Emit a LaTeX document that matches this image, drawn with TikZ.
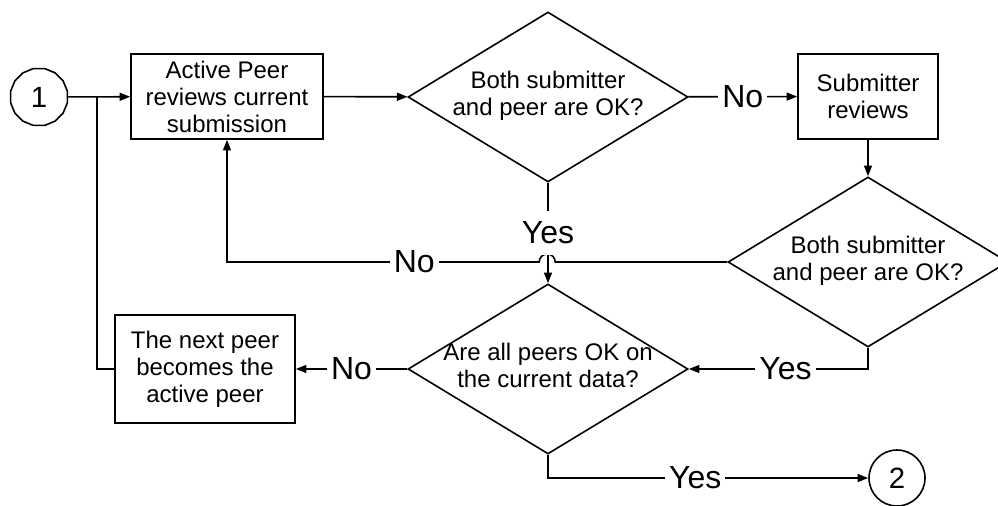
\documentclass[tikz,border=0pt]{standalone}
\usepackage{fontspec}
\setmainfont{Liberation Sans}
\usetikzlibrary{positioning,arrows.meta,shapes.geometric}
\newcommand{\qtext}[1]{\makebox[0pt]{\begin{tabular}{@{}c@{}}#1\end{tabular}}}

\begin{document}
\begin{tikzpicture}[x=0.75pt, y=-0.75pt, line width=1.2pt, >={Triangle[length=8pt,width=6pt]},
        block/.style={rectangle, draw, inner sep=0pt, align=center, font=\fontsize{18}{20.25}\selectfont},
        decision/.style={diamond, draw, aspect=1.65, inner sep=0pt, minimum width=210pt, minimum height=127.5pt, font=\fontsize{18}{20.25}\selectfont},
        conn/.style={draw, inner sep=0pt, font=\fontsize{22}{26}\selectfont},
        lbl/.style={fill=white, inner xsep=3pt, inner ysep=8pt, font=\fontsize{24}{28}\selectfont}]
        \useasboundingbox (0,0) rectangle (998,506);
        \node[conn, regular polygon, regular polygon sides=16, minimum size=43.5pt] (start) at (39,97) {1};
        \node[block, minimum width=144pt, minimum height=63.75pt] (review) at (227,96.5) {Active Peer\\reviews current\\submission};
        \node[decision] (check) at (548,97) {\qtext{Both submitter\\and peer are OK?}};
        \node[block, minimum width=105pt, minimum height=63.75pt] (subrev) at (868,96.5) {Submitter\\reviews};
        \node[decision] (recheck) at (868,262) {\qtext{Both submitter\\and peer are OK?}};
        \node[decision] (final) at (548,369) {\qtext{Are all peers OK on\\the current data?}};
        \node[block, minimum width=135pt, minimum height=81pt] (nextpeer) at (205,369) {The next peer\\becomes the\\active peer};
        \node[conn, circle, minimum size=42pt] (stop) at (897,478) {2};
        \coordinate (join) at (97,97);

        \draw[->] (start) -- (review);
        \draw[->] (review) -- (check);
        \draw[->] (check) -- node[lbl]{No} (subrev);
        \draw[->] (subrev) -- (recheck);
        \draw[->] (recheck.west) -- ++(-172,0) arc[start angle=0, end angle=-180, radius=8]
            -- node[lbl, pos=.4]{No} (review.south |- recheck.west) -- (review.south);
        \draw[->] (check) -- node[lbl]{Yes} (final);
        \draw[->] (recheck.south) |- node[lbl, pos=.73]{Yes} (final.east);
        \draw[->] (final) -- node[lbl]{No} (nextpeer);
        \draw[->] (final.south) |- node[lbl, pos=.73]{Yes} (stop);
        \draw (nextpeer.west) -| (join);
    \end{tikzpicture}
\end{document}
